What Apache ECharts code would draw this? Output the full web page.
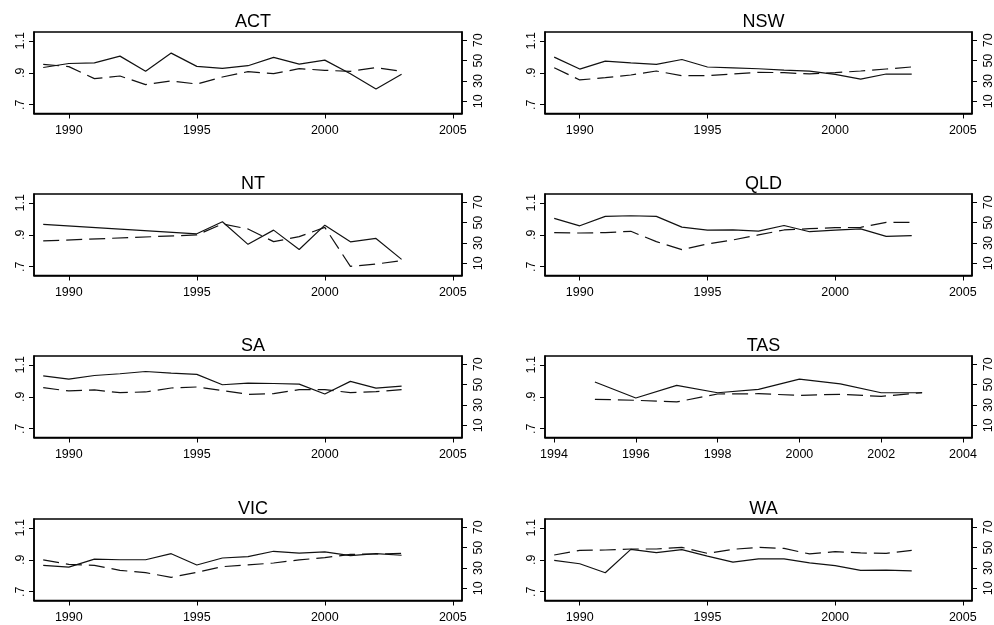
<!DOCTYPE html>
<html><head><meta charset="utf-8">
<script src="https://cdn.jsdelivr.net/npm/echarts@6/dist/echarts.min.js"></script>
<style>html,body{margin:0;padding:0;background:#fff}#c{width:994px;height:625px}</style>
</head><body><div id="c"></div>
<script>
const states = ['ACT','NSW','NT','QLD','SA','TAS','VIC','WA'];
const years = [1989,1990,1991,1992,1993,1994,1995,1996,1997,1998,1999,2000,2001,2002,2003];
const ntYears = [1989,1995,1996,1997,1998,1999,2000,2001,2002,2003];
const tasYears = [1995,1996,1997,1998,1999,2000,2001,2002,2003];

// solid line: left axis (ratio); dashed line: right axis
const actSolid  = [0.933,0.958,0.962,1.004,0.910,1.023,0.940,0.927,0.944,0.996,0.954,0.979,0.894,0.798,0.890];
const actDashed = [46.4,44.1,32.3,34.9,26.4,30.0,27.0,33.9,39.2,37.2,42.1,40.5,39.5,43.1,39.5];
const nswSolid  = [0.998,0.923,0.973,0.962,0.952,0.983,0.936,0.931,0.925,0.917,0.910,0.890,0.860,0.892,0.892];
const nswDashed = [43.1,31.0,33.3,35.9,39.8,35.2,35.2,36.9,38.5,38.2,36.9,38.2,39.8,41.8,43.8];
const ntSolid   = [0.965,0.906,0.981,0.840,0.929,0.808,0.960,0.856,0.877,0.746];
const ntDashed  = [32.0,37.9,48.7,43.8,31.3,36.2,45.4,7.0,9.3,12.6];
const qldSolid  = [1.002,0.956,1.015,1.019,1.015,0.948,0.929,0.931,0.923,0.958,0.919,0.929,0.937,0.890,0.894];
const qldDashed = [40.2,39.8,40.2,41.5,31.3,23.4,29.0,33.0,37.9,42.8,44.1,45.1,45.4,50.3,50.3];
const saSolid   = [1.031,1.010,1.033,1.044,1.058,1.048,1.040,0.975,0.985,0.983,0.979,0.917,0.996,0.954,0.967];
const saDashed  = [47.0,43.8,44.8,42.1,42.8,46.7,47.7,44.1,40.5,41.1,45.1,45.1,42.1,43.1,45.1];
const tasSolid  = [0.992,0.892,0.971,0.925,0.946,1.010,0.981,0.925,0.925];
const tasDashed = [35.6,34.6,33.0,40.8,41.1,39.5,40.5,38.5,42.1];
const vicSolid  = [0.865,0.854,0.904,0.900,0.900,0.938,0.867,0.911,0.920,0.953,0.941,0.949,0.926,0.938,0.928];
const vicDashed = [37.9,33.6,32.6,27.7,25.4,20.8,25.7,31.3,33.0,34.9,37.9,40.2,43.4,43.8,44.4];
const waSolid   = [0.896,0.875,0.819,0.965,0.944,0.963,0.923,0.885,0.906,0.906,0.881,0.863,0.833,0.835,0.831];
const waDashed  = [42.8,47.4,47.7,48.7,48.7,50.3,44.4,48.4,50.3,49.3,43.8,46.1,44.8,44.4,47.4];

const xTicks = [1990,1995,2000,2005];
const tasXTicks = [1994,1996,1998,2000,2002,2004];
const leftTicks = [0.7,0.9,1.1];
const rightTicks = [10,30,50,70];

const panels = [
  {yrs: years,    solid: actSolid, dashed: actDashed},
  {yrs: years,    solid: nswSolid, dashed: nswDashed},
  {yrs: ntYears,  solid: ntSolid,  dashed: ntDashed},
  {yrs: years,    solid: qldSolid, dashed: qldDashed},
  {yrs: years,    solid: saSolid,  dashed: saDashed},
  {yrs: tasYears, solid: tasSolid, dashed: tasDashed},
  {yrs: years,    solid: vicSolid, dashed: vicDashed},
  {yrs: years,    solid: waSolid,  dashed: waDashed}
];

const FONT = '"Liberation Sans", Arial, Helvetica, sans-serif';
const colLeft = [34, 545];
const colWidth = [428, 427];
const rowTop = [32, 194, 356, 519];
const H = 81.5;

const grid = [], xAxis = [], yAxis = [], series = [], title = [];
const lbl = {color:'#000', fontSize:12.5, fontFamily: FONT};

panels.forEach((p, i) => {
  const r = Math.floor(i/2), c = i % 2;
  const isTas = states[i] === 'TAS';
  grid.push({left: colLeft[c], top: rowTop[r], width: colWidth[c], height: H,
    show: true, borderColor:'#000', borderWidth:1.5, backgroundColor:'transparent',
    containLabel:false, outerBoundsMode:'none'});
  title.push({text: states[i], left: colLeft[c] + colWidth[c]/2, top: rowTop[r] - 24,
    textAlign:'center', textStyle:{fontSize:18, fontWeight:'normal', color:'#000', fontFamily: FONT}});
  const xt = isTas ? tasXTicks : xTicks;
  xAxis.push({type:'value', gridIndex:i,
    min: isTas ? 1993.78 : 1988.64, max: isTas ? 2004.22 : 2005.36,
    axisLine:{show:true, onZero:false, lineStyle:{color:'#000', width:1.5}},
    axisTick:{show:true, length:5, customValues: xt, lineStyle:{color:'#000', width:1}},
    axisLabel:Object.assign({customValues: xt, margin:11, formatter: v => String(Math.round(v))}, lbl),
    splitLine:{show:false}});
  yAxis.push({type:'value', gridIndex:i, position:'left', min:0.645, max:1.155,
    axisLine:{show:true, onZero:false, lineStyle:{color:'#000', width:1.5}},
    axisTick:{show:true, length:5, customValues: leftTicks, lineStyle:{color:'#000', width:1}},
    axisLabel:Object.assign({customValues: leftTicks, rotate:90, margin:7,
      formatter: v => (+v).toFixed(1).replace(/^0/, '')}, lbl),
    splitLine:{show:false}});
  yAxis.push({type:'value', gridIndex:i, position:'right', min:-2, max:78.2,
    axisLine:{show:true, onZero:false, lineStyle:{color:'#000', width:1.5}},
    axisTick:{show:true, length:5, customValues: rightTicks, lineStyle:{color:'#000', width:1}},
    axisLabel:Object.assign({customValues: rightTicks, rotate:90, margin:10,
      formatter: v => String(Math.round(v))}, lbl),
    splitLine:{show:false}});
  series.push({type:'line', xAxisIndex:i, yAxisIndex:2*i, symbol:'none', silent:true,
    data: p.yrs.map((y,k)=>[y, p.solid[k]]),
    lineStyle:{color:'#111', width:1.2, type:'solid'}});
  series.push({type:'line', xAxisIndex:i, yAxisIndex:2*i+1, symbol:'none', silent:true,
    data: p.yrs.map((y,k)=>[y, p.dashed[k]]),
    lineStyle:{color:'#111', width:1.2, type:[16,7]}});
});

const chart = echarts.init(document.getElementById('c'), null, {renderer:'canvas'});
chart.setOption({animation:false, backgroundColor:'#fff', title, grid, xAxis, yAxis, series});
</script>
</body></html>
